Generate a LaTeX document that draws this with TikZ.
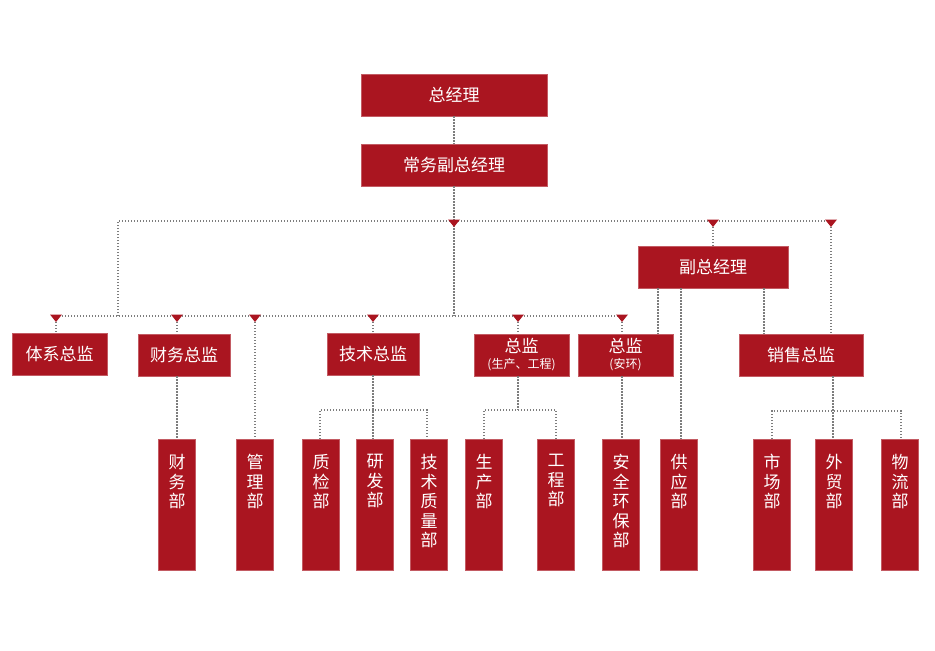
\documentclass[tikz,border=0pt]{standalone}
\usepackage{fontspec}
\newfontfamily\cjk{Noto Sans CJK SC}
\usetikzlibrary{positioning}
\definecolor{boxred}{RGB}{170,21,32}
\definecolor{dotgray}{RGB}{125,125,125}

\begin{document}
\begin{tikzpicture}[x=1pt, y=-1pt, thick,
  box node/.style={rectangle, fill=boxred, draw=boxred!70!white, line width=.5pt, text=white, inner sep=0pt, align=center, font=\cjk\fontsize{17}{19}\selectfont},
  dept node/.style={box node, minimum width=37, minimum height=131, anchor=north},
  dept text/.style={text=white, inner sep=0pt, align=center, font=\cjk\fontsize{17}{19.5}\selectfont},
  link/.style={draw=dotgray, line width=1.3pt, dash pattern=on 1.3pt off 1.7pt}]
\useasboundingbox (0,0) rectangle (935,651);
% heads
\node[box node, minimum width=186, minimum height=42] (gm) at (454,95) {总经理};
\node[box node, minimum width=186, minimum height=42] (egm) at (454,165) {常务副总经理};
\node[box node, minimum width=150, minimum height=42] (dgm) at (713,267) {副总经理};
\node[box node, minimum width=95, minimum height=42] (sys) at (59.5,354) {体系总监};
\node[box node, minimum width=92, minimum height=42] (fin) at (184,355) {财务总监};
\node[box node, minimum width=92, minimum height=42] (tech) at (373,354) {技术总监};
\node[box node, minimum width=95, minimum height=42] (prod) at (521.5,355) {总监\\[-3pt]{\fontsize{12}{13}\selectfont(生产、工程)}};
\node[box node, minimum width=95, minimum height=42] (safe) at (625.5,355) {总监\\[-3pt]{\fontsize{12}{13}\selectfont(安环)}};
\node[box node, minimum width=124, minimum height=42] (sales) at (801,355) {销售总监};
% departments
\foreach \s/\x/\t in {finD/177/{财\\务\\部}, admD/255/{管\\理\\部}, qc/321/{质\\检\\部}, rd/375/{研\\发\\部}, tq/429/{技\\术\\质\\量\\部}, prd/484/{生\\产\\部}, eng/556/{工\\程\\部}, ehs/621/{安\\全\\环\\保\\部}, sup/679/{供\\应\\部}, mkt/772/{市\\场\\部}, trade/834/{外\\贸\\部}, logi/900/{物\\流\\部}}{
    \node[dept node] (\s) at (\x,439) {};
    \node[dept text, below=15pt of \s.north] (\s-t) {\t};}
% bus points
\coordinate (lft) at (118,316);
\foreach \s/\x in {u1/454, u2/713, u3/831}{
    \coordinate (\s) at (\x,221);}
\foreach \s/\x in {d1/56, d2/177, d3/255, d4/373, d5/518, d6/622}{
    \coordinate (\s) at (\x,316);}
\coordinate (v1) at ([xshift=-55pt]dgm.south);
\coordinate (v2) at ([xshift=-32pt]dgm.south);
\coordinate (v3) at ([xshift=51pt]dgm.south);
\coordinate (tj) at (373,410);
\coordinate (pj) at (518,410);
\coordinate (sj) at (833,411);
% links
\draw[link] (gm.south) -- (egm.north);
\draw[link] (egm.south) -- (egm |- d1);
\draw[link] (lft) -- (lft |- u1) -- (u3);
\draw[link] (d1) -- (d6);
\foreach \s/\t in {d1/sys, d2/fin, d4/tech, d5/prod, d6/safe}{
    \draw[link] (\s) -- (\s |- \t.north);}
\draw[link] (d3) -- (d3 |- admD.north);
\draw[link] (u2) -- (dgm.north);
\draw[link] (u3) -- (u3 |- sales.north);
\draw[link] (v1) -- (v1 |- safe.north);
\draw[link] (v2) -- (v2 |- sup.north);
\draw[link] (v3) -- (v3 |- sales.north);
\draw[link] (d2 |- fin.south) -- (finD.north);
\draw[link] (d6 |- safe.south) -- (d6 |- ehs.north);
\draw[link] (tech.south) -- (tj) -- (tj |- rd.north);
\draw[link] (qc.north -| 320,0) |- (tj) -| (tq.north -| 427,0);
\draw[link] (d5 |- prod.south) -- (pj);
\draw[link] (prd.north) |- (pj) -| (eng.north);
\draw[link] (sj |- sales.south) -- (sj) -- (sj |- trade.north);
\draw[link] (mkt.north) |- (sj) -| (logi.north -| 901,0);
% marks
\foreach \p in {u1, u2, u3, d1, d2, d3, d4, d5, d6}{
    \fill[boxred] (\p) ++(-6,-1.5) -- ++(12,0) -- ++(-6,7.5) -- cycle;}
\end{tikzpicture}
\end{document}
